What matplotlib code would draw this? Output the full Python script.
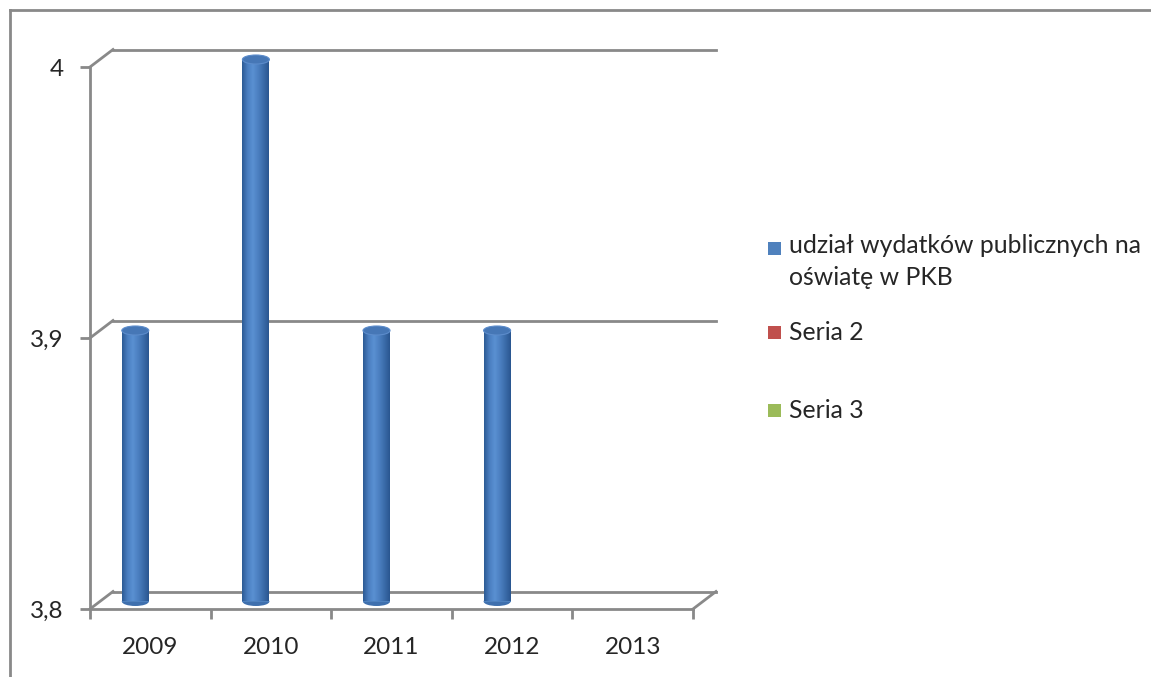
import numpy as np
import matplotlib
matplotlib.use('Agg')
import matplotlib.pyplot as plt
import matplotlib.transforms as mtransforms
from matplotlib.patches import Ellipse, Rectangle
from matplotlib.lines import Line2D
from matplotlib.colors import LinearSegmentedColormap

years = ['2009', '2010', '2011', '2012', '2013']
values = [3.9, 4.0, 3.9, 3.9, None]
yticks = [3.8, 3.9, 4.0]
ytick_labels = ['3,8', '3,9', '4']
legend_labels = ['udział wydatków publicznych na\noświatę w PKB', 'Seria 2', 'Seria 3']
legend_colors = ['#4F81BD', '#C0504D', '#9BBB59']

plt.rcParams['font.family'] = ['Lato', 'DejaVu Sans']
gray = '#898989'
txt = '#262626'

fig = plt.figure(figsize=(11.51, 6.77), dpi=100)
W, H = 1151, 677
ax = fig.add_axes([90 / W, (H - 609) / H, 603 / W, 542 / H])
ax.set_xlim(0, 5)
ax.set_ylim(3.8, 4.0)
ax.patch.set_visible(False)
for s in ['top', 'right']:
	ax.spines[s].set_visible(False)
for s in ['left', 'bottom']:
	ax.spines[s].set_color(gray)
	ax.spines[s].set_linewidth(2)

# depth offsets in pixels (back wall, cylinder plane)
back = mtransforms.offset_copy(ax.transData, fig, x=23, y=17.5, units='dots')
mid = mtransforms.offset_copy(ax.transData, fig, x=-15, y=7.5, units='dots')

# back wall grid + diagonals to the front
for yv in yticks:
	ax.plot([0, 5], [yv, yv], color=gray, lw=2, transform=back, clip_on=False, zorder=1)
	p0 = ax.transData.transform((0, yv))
	p1 = back.transform((0, yv))
	fig.add_artist(Line2D([p0[0] / W, p1[0] / W], [p0[1] / H, p1[1] / H], color=gray, lw=2))
p0 = ax.transData.transform((5, 3.8))
p1 = back.transform((5, 3.8))
fig.add_artist(Line2D([p0[0] / W, p1[0] / W], [p0[1] / H, p1[1] / H], color=gray, lw=2))

ax.set_yticks(yticks)
ax.set_yticklabels(ytick_labels)
ax.set_xticks(range(6))
ax.set_xticklabels([])
ax.set_xticks([i + 0.5 for i in range(5)], minor=True)
ax.set_xticklabels(years, minor=True)
ax.tick_params(axis='y', length=7, width=2, color=gray, pad=12, labelsize=17.5, labelcolor=txt)
ax.tick_params(axis='x', which='major', length=7, width=2, color=gray)
ax.tick_params(axis='x', which='minor', length=0, pad=20, labelsize=17.5, labelcolor=txt)

# cylinders
cmap = LinearSegmentedColormap.from_list('cyl', ['#2D5B95', '#4A7EC0', '#5A90D2', '#4C80C1', '#3B6CAA', '#2A5690'])
grad = np.linspace(0, 1, 64).reshape(1, -1)
bw = 27 / 120.6
eh = 9 / 542 * 0.2
for i, v in enumerate(values):
	if v is None:
		continue
	xc = i + 0.5
	bot = Ellipse((xc, 3.8), bw, eh, transform=mid, facecolor='#3F70AE', edgecolor='none', zorder=3, clip_on=False)
	ax.add_patch(bot)
	bar = ax.bar(xc, v - 3.8, bottom=3.8, width=bw, color='#4F81BD', transform=mid, zorder=4, clip_on=False)[0]
	im = ax.imshow(grad, extent=[xc - bw / 2, xc + bw / 2, 3.8, v], aspect='auto', cmap=cmap, zorder=5, transform=mid)
	im.set_clip_path(bar)
	top = Ellipse((xc, v), bw, eh, transform=mid, facecolor='#4677B6', edgecolor='#5C8CCB', lw=0.8, zorder=6, clip_on=False)
	ax.add_patch(top)
ax.set_xlim(0, 5)
ax.set_ylim(3.8, 4.0)

# legend
leg_y = [248, 332, 410]
for lab, col, yy in zip(legend_labels, legend_colors, leg_y):
	fig.add_artist(Rectangle((768 / W, (H - yy - 7) / H), 13 / W, 13 / H, facecolor=col, edgecolor='none'))
	if '\n' in lab:
		fig.text(789 / W, (H - yy + 14) / H, lab, fontsize=17.8, color=txt, va='top', linespacing=1.45)
	else:
		fig.text(789 / W, (H - yy) / H, lab, fontsize=17.8, color=txt, va='center')

# outer frame
fig.add_artist(Line2D([10 / W, 1], [(H - 10) / H, (H - 10) / H], color=gray, lw=2))
fig.add_artist(Line2D([10 / W, 10 / W], [0, (H - 10) / H], color=gray, lw=2))

fig.savefig('out.png', dpi=100, facecolor='white')
